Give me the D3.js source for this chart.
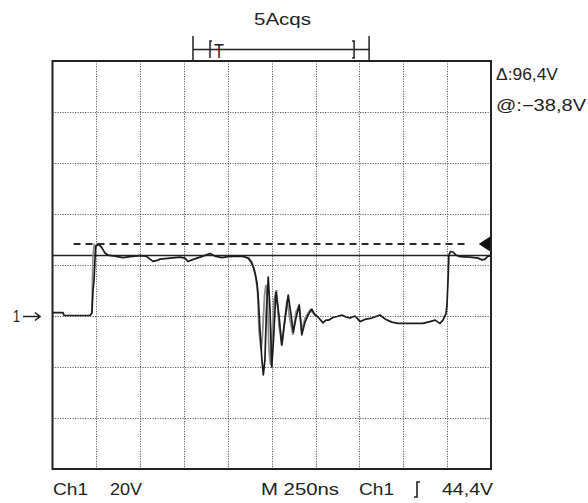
<!DOCTYPE html>
<html>
<head>
<meta charset="utf-8">
<script src="https://cdn.jsdelivr.net/npm/d3@7"></script>
<style>
  html, body { margin: 0; padding: 0; background: #fff; }
  svg { display: block; }
  text { font-family: "Liberation Sans Narrow", "Liberation Sans", Arial, sans-serif; fill: #222; }
</style>
</head>
<body>
<svg id="chart" width="588" height="503"></svg>
<script>
// ---- data (time in ns, voltage in V) ----
const traceTime = [3,60,66,214,225,231,237,242,246,257,268,282,299,316,356,402,442,499,533,556,573,596,613,670,727,755,772,795,824,858,898,926,966,1001,1058,1092,1115,1132,1145,1157,1166,1174,1183,1194,1202,1211,1220,1230,1240,1250,1260,1274,1291,1307,1325,1344,1360,1373,1388,1407,1421,1440,1457,1478,1497,1514,1542,1559,1576,1599,1622,1650,1673,1696,1725,1753,1787,1821,1867,1901,1935,1970,2015,2067,2112,2152,2181,2209,2226,2243,2249,2255,2260,2269,2283,2300,2323,2380,2426,2449,2466,2483,2500];
const traceVolt = [1.3,1.3,0.2,0.2,1.2,10.2,14.1,22.0,27.1,28.0,27.8,26.7,24.7,23.9,23.5,22.9,23.3,23.7,23.5,22.3,21.4,21.8,22.3,22.7,23.1,22.7,21.4,22.0,22.7,23.5,24.5,23.5,22.9,23.3,23.5,23.3,22.7,21.2,19.2,16.1,12.9,6.3,-5.5,-17.2,-23.1,-17.2,2.4,15.3,2.4,-20.0,-9.4,9.4,0.4,-11.4,-1.6,8.2,0.4,-6.3,-0.8,4.3,-7.4,-2.4,0.4,2.7,0.4,-0.4,-2.7,-1.6,-1.6,-0.6,-0.2,0.4,-0.4,-0.8,0,-2.2,-1.2,-0.8,0.4,-1.4,-2.4,-2.9,-2.9,-2.9,-2.9,-2.2,-1.6,-2.9,-1.6,0.8,4.3,14.1,23.9,25.3,25.1,23.9,23.3,23.1,22.7,22.0,22.3,23.5,23.5];

// overlapping earlier acquisitions (grey persistence)
const ghostTime = [1115,1137,1154,1169,1177,1189,1197,1209,1217,1226,1234,1243,1254,1263,1277,1291,1308,1322,1337,1354,1371,1388,1405,1422,1440,1468,1502];
const ghostVolt = [23.1,21.2,17.2,10.2,-5.5,-13.3,-7.4,8.2,12.2,6.3,-13.3,-19.2,-5.5,6.3,10.2,-3.5,-11.4,-2.4,6.3,-1.6,-7.4,1.6,3.9,-5.5,-0.8,2.4,0];
const ghostEdgeTime = [214,224,227,231,238,248];
const ghostEdgeVolt = [0.2,1.2,12,24,28,27.5];

const timeDivs = [0,250,500,750,1000,1250,1500,1750,2000,2250,2500];
const voltDivs = [-60,-40,-20,0,20,40,60,80,100];
const triggerLevel = 28.2;   // dashed line / marker
const cursorLevel = 23.7;    // solid horizontal cursor
const gateStart = 801, gateEnd = 1805;

const topLabel = "5Acqs";
const sideLabels = ["\u0394:96,4V", "@:\u221238,8V"];
const bottomLabels = ["Ch1", "20V", "M 250ns", "Ch1", "44,4V"];

// ---- scales ----
const x = d3.scaleLinear().domain([0, 2500]).range([52.5, 491]);
const y = d3.scaleLinear().domain([-60, 100]).range([469, 61]);

const svg = d3.select("#chart");

// grid
const grid = svg.append("g").attr("stroke", "#5e5e5e").attr("stroke-width", 1).attr("stroke-dasharray", "1.2,1.3");
grid.selectAll("line.v").data(timeDivs.slice(1, -1)).join("line")
  .attr("x1", d => Math.round(x(d)) + 0.5).attr("x2", d => Math.round(x(d)) + 0.5)
  .attr("y1", y(100)).attr("y2", y(-60));
grid.selectAll("line.h").data(voltDivs.slice(1, -1)).join("line")
  .attr("y1", d => Math.round(y(d)) + 0.5).attr("y2", d => Math.round(y(d)) + 0.5)
  .attr("x1", x(0)).attr("x2", x(2500));

// trigger dashed line
svg.append("line")
  .attr("x1", x(120)).attr("x2", x(2370))
  .attr("y1", y(triggerLevel)).attr("y2", y(triggerLevel))
  .attr("stroke", "#2a2a2a").attr("stroke-width", 2).attr("stroke-dasharray", "7,5");
// trigger marker
const ty = y(triggerLevel);
svg.append("path")
  .attr("d", `M${x(2430)},${ty} L${x(2495)},${ty - 7.5} L${x(2495)},${ty + 7.5} Z`)
  .attr("fill", "#111");

// cursor solid line
svg.append("line")
  .attr("x1", x(0)).attr("x2", x(2500))
  .attr("y1", y(cursorLevel)).attr("y2", y(cursorLevel))
  .attr("stroke", "#222").attr("stroke-width", 1.6);

const line = d3.line().x(d => x(d[0])).y(d => y(d[1]));

// ghost traces
svg.append("path").datum(d3.zip(ghostTime, ghostVolt)).attr("d", line)
  .attr("fill", "none").attr("stroke", "#8c8c8c").attr("stroke-width", 1.8);
svg.append("path").datum(d3.zip(ghostEdgeTime, ghostEdgeVolt)).attr("d", line)
  .attr("fill", "none").attr("stroke", "#8c8c8c").attr("stroke-width", 1.6);

// main trace
svg.append("path").datum(d3.zip(traceTime, traceVolt)).attr("d", line)
  .attr("fill", "none").attr("stroke", "#1c1c1c").attr("stroke-width", 1.7)
  .attr("stroke-linejoin", "round");

// frame
svg.append("rect")
  .attr("x", x(0)).attr("y", y(100))
  .attr("width", x(2500) - x(0)).attr("height", y(-60) - y(100))
  .attr("fill", "none").attr("stroke", "#222").attr("stroke-width", 2);

// gate bracket on top
const br = svg.append("g").attr("stroke", "#222").attr("stroke-width", 1.5).attr("fill", "none");
const gs = x(gateStart), ge = x(gateEnd);
br.append("line").attr("x1", gs).attr("x2", gs).attr("y1", 36).attr("y2", y(100));
br.append("line").attr("x1", ge).attr("x2", ge).attr("y1", 36).attr("y2", y(100));
br.append("line").attr("x1", gs).attr("x2", ge).attr("y1", 49.5).attr("y2", 49.5);
// "[" and "]" brackets and T
br.append("path").attr("d", `M${gs + 19},41 L${gs + 17},41 L${gs + 17},58`);
br.append("path").attr("d", `M${ge - 17},41 L${ge - 15},41 L${ge - 15},58 L${ge - 17},58`);
svg.append("text").attr("x", gs + 21).attr("y", 58).attr("font-size", 21)
  .attr("textLength", 10).attr("lengthAdjust", "spacingAndGlyphs").text("T");

// labels
svg.append("text").attr("x", 254).attr("y", 25).attr("font-size", 16)
  .attr("textLength", 57).attr("lengthAdjust", "spacingAndGlyphs").text(topLabel);
svg.append("text").attr("x", 496).attr("y", 80).attr("font-size", 16)
  .attr("textLength", 62).attr("lengthAdjust", "spacingAndGlyphs").text(sideLabels[0]);
svg.append("text").attr("x", 496).attr("y", 111).attr("font-size", 16)
  .attr("textLength", 90).attr("lengthAdjust", "spacingAndGlyphs").text(sideLabels[1]);

// channel ground marker "1→"
svg.append("text").attr("x", 13).attr("y", y(0) + 6).attr("font-size", 17)
  .attr("textLength", 7).attr("lengthAdjust", "spacingAndGlyphs").text("1");
const gy = y(0) + 0.5;
svg.append("path").attr("d", `M23,${gy} L40,${gy} M35,${gy - 4} L40,${gy} L35,${gy + 4}`)
  .attr("fill", "none").attr("stroke", "#222").attr("stroke-width", 1.6);

const bx = [53, 110, 261, 359, 442];
const bw = [35, 32, 78, 35, 51];
svg.selectAll("text.bl").data(bottomLabels).join("text")
  .attr("class", "bl")
  .attr("x", (d, i) => bx[i]).attr("y", 495).attr("font-size", 16)
  .attr("textLength", (d, i) => bw[i]).attr("lengthAdjust", "spacingAndGlyphs")
  .text(d => d);
// trigger slope symbol
svg.append("path").attr("d", "M420,482 L417,482 L417,497 L414,497")
  .attr("fill", "none").attr("stroke", "#222").attr("stroke-width", 1.6);
</script>
</body>
</html>
